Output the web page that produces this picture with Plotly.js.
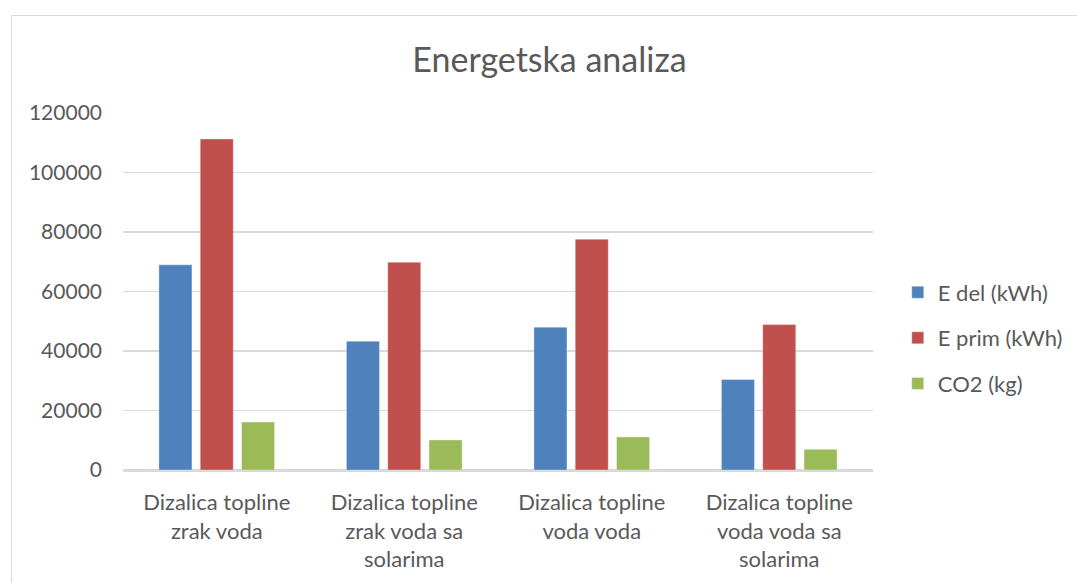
<!DOCTYPE html>
<html>
<head>
<meta charset="utf-8">
<script src="https://cdn.plot.ly/plotly-3.0.1.min.js"></script>
<style>
html,body{margin:0;padding:0;width:1077px;height:583px;overflow:hidden;background:#fff;}
#frame{position:absolute;left:11px;top:15px;width:1080px;height:580px;border:1px solid #d9d9d9;background:#fff;}
#chart{width:1080px;height:580px;}
</style>
</head>
<body>
<div id="frame"><div id="chart"></div></div>
<script>
const categories = [
  "Dizalica topline<br>zrak voda",
  "Dizalica topline<br>zrak voda sa<br>solarima",
  "Dizalica topline<br>voda voda",
  "Dizalica topline<br>voda voda sa<br>solarima"
];
const seriesNames = ["E del (kWh)", "E prim (kWh)", "CO2 (kg)"];
const eDel = [68960, 43290, 48000, 30380];
const ePrim = [111250, 69870, 77600, 48880];
const co2 = [16150, 10090, 11100, 6960];
const colors = ["#4F81BD", "#C0504D", "#9BBB59"];
const values = [eDel, ePrim, co2];

const FONT = "Lato, 'Open Sans', sans-serif";
const traces = values.map((v, i) => ({
  type: "bar",
  name: seriesNames[i],
  x: categories,
  y: v,
  legendgroup: "g" + i,
  marker: {color: colors[i], line: {color: "rgba(255,255,255,0.35)", width: 1}},
  hoverinfo: "x+y"
}));

const layout = {
  width: 1080, height: 580,
  margin: {l: 111, r: 219, t: 97, b: 126},
  paper_bgcolor: "#ffffff",
  plot_bgcolor: "#ffffff",
  barmode: "group",
  bargap: 0.339,
  bargroupgap: 0.2,
  font: {family: FONT, color: "#595959", size: 21},
  title: {
    text: "Energetska analiza",
    font: {family: FONT, size: 34, color: "#595959"},
    xref: "container", x: 0.4977, xanchor: "center",
    yref: "container", y: 1 - 44/580, yanchor: "middle"
  },
  xaxis: {
    type: "category",
    showgrid: false,
    showline: true, linecolor: "#d9d9d9", linewidth: 1.5,
    ticks: "", ticklabelstandoff: 12,
    tickfont: {family: FONT, size: 22, color: "#595959"},
    fixedrange: true
  },
  yaxis: {
    range: [0, 120000], dtick: 20000, tick0: 0,
    showgrid: true, gridcolor: "#d9d9d9", gridwidth: 1.5,
    zeroline: true, zerolinecolor: "#d9d9d9", zerolinewidth: 1.5,
    showline: false, ticks: "", ticklabelstandoff: 20,
    tickformat: "d",
    tickfont: {family: FONT, size: 21, color: "#595959"},
    fixedrange: true
  },
  showlegend: true,
  legend: {
    xref: "paper", x: 1.033, xanchor: "left",
    yref: "paper", y: 0.37, yanchor: "middle",
    traceorder: "grouped", tracegroupgap: 14,
    font: {family: FONT, size: 22, color: "#595959"},
    bgcolor: "rgba(0,0,0,0)"
  }
};

Plotly.newPlot("chart", traces, layout, {displayModeBar: false, staticPlot: true});
</script>
</body>
</html>
